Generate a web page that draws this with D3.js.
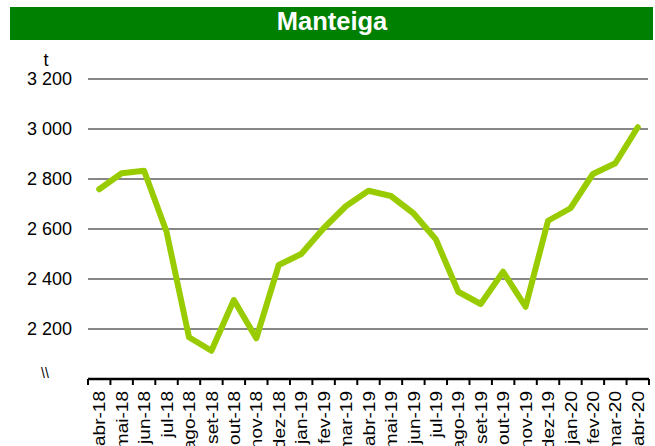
<!DOCTYPE html>
<html>
<head>
<meta charset="utf-8">
<script src="https://cdn.jsdelivr.net/npm/d3@7"></script>
<style>
  body { margin: 0; background: #fff; }
  svg { display: block; font-family: "Liberation Sans", Arial, sans-serif; }
</style>
</head>
<body>
<div id="chart"></div>
<script>
// Monthly butter production (t), abr-18 .. abr-20
const months = ["abr-18","mai-18","jun-18","jul-18","ago-18","set-18","out-18","nov-18","dez-18",
  "jan-19","fev-19","mar-19","abr-19","mai-19","jun-19","jul-19","ago-19","set-19","out-19",
  "nov-19","dez-19","jan-20","fev-20","mar-20","abr-20"];
const values = [2759, 2823, 2833, 2589, 2167, 2113, 2316, 2163, 2456,
  2500, 2603, 2692, 2753, 2732, 2663, 2559, 2349, 2300, 2429,
  2289, 2633, 2683, 2820, 2863, 3007];
const yTicks = [2200, 2400, 2600, 2800, 3000, 3200];

var svgWidth = 655, svgHeight = 446;

var svg = d3.select("#chart").append("svg")
  .attr("width", svgWidth)
  .attr("height", svgHeight);

// title band
svg.append("rect")
  .attr("x", 10).attr("y", 7)
  .attr("width", 643).attr("height", 33)
  .attr("fill", "#008000");

svg.append("text")
  .attr("x", 332).attr("y", 29.5)
  .attr("text-anchor", "middle")
  .attr("font-size", "25.5px")
  .attr("font-weight", "bold")
  .attr("fill", "#fff")
  .text("Manteiga");

// scales
var x = d3.scaleBand().domain(months).range([88, 649]);
var y = d3.scaleLinear().domain([2000, 3200]).range([379, 79]);

var fmt = d3.formatLocale({decimal: ",", thousands: " ", grouping: [3], currency: ["", ""]}).format(",");

// gridlines
svg.append("g").selectAll("line")
  .data(yTicks)
  .enter()
  .append("line")
  .attr("x1", 88).attr("x2", 648)
  .attr("y1", d => y(d)).attr("y2", d => y(d))
  .attr("stroke", "#878787")
  .attr("stroke-width", 2);

// y axis labels
svg.append("g").selectAll("text")
  .data(yTicks)
  .enter()
  .append("text")
  .attr("x", 72)
  .attr("y", d => y(d))
  .attr("dy", "0.36em")
  .attr("text-anchor", "end")
  .attr("font-size", "18px")
  .text(d => fmt(d));

svg.append("text")
  .attr("x", 46).attr("y", 66)
  .attr("text-anchor", "middle")
  .attr("font-size", "18px")
  .text("t");

svg.append("text")
  .attr("x", 45).attr("y", 378)
  .attr("text-anchor", "middle")
  .attr("font-size", "14px")
  .text("\\\\");

// x axis
var xAxis = svg.append("g");
xAxis.append("line")
  .attr("x1", 88).attr("x2", 649)
  .attr("y1", 379).attr("y2", 379)
  .attr("stroke", "#000")
  .attr("stroke-width", 2.5);

var bounds = months.map(m => x(m)).concat([x.range()[1]]);
xAxis.selectAll(".tickmark")
  .data(bounds)
  .enter()
  .append("line")
  .attr("x1", d => d).attr("x2", d => d)
  .attr("y1", 379).attr("y2", 385)
  .attr("stroke", "#000")
  .attr("stroke-width", 2);

// labels are a bit stretched along their length in the original
xAxis.selectAll(".xlabel")
  .data(months)
  .enter()
  .append("text")
  .attr("transform", d => `translate(${x(d) + x.bandwidth() / 2},391) rotate(-90) scale(1.12,1)`)
  .attr("dy", "0.36em")
  .attr("text-anchor", "end")
  .attr("font-size", "17px")
  .text(d => d);

// the line
var line = d3.line()
  .x((d, i) => x(months[i]) + x.bandwidth() / 2)
  .y(d => y(d));

svg.append("path")
  .datum(values)
  .attr("d", line)
  .attr("fill", "none")
  .attr("stroke", "#99cc00")
  .attr("stroke-width", 6)
  .attr("stroke-linejoin", "round")
  .attr("stroke-linecap", "round");
</script>
</body>
</html>
